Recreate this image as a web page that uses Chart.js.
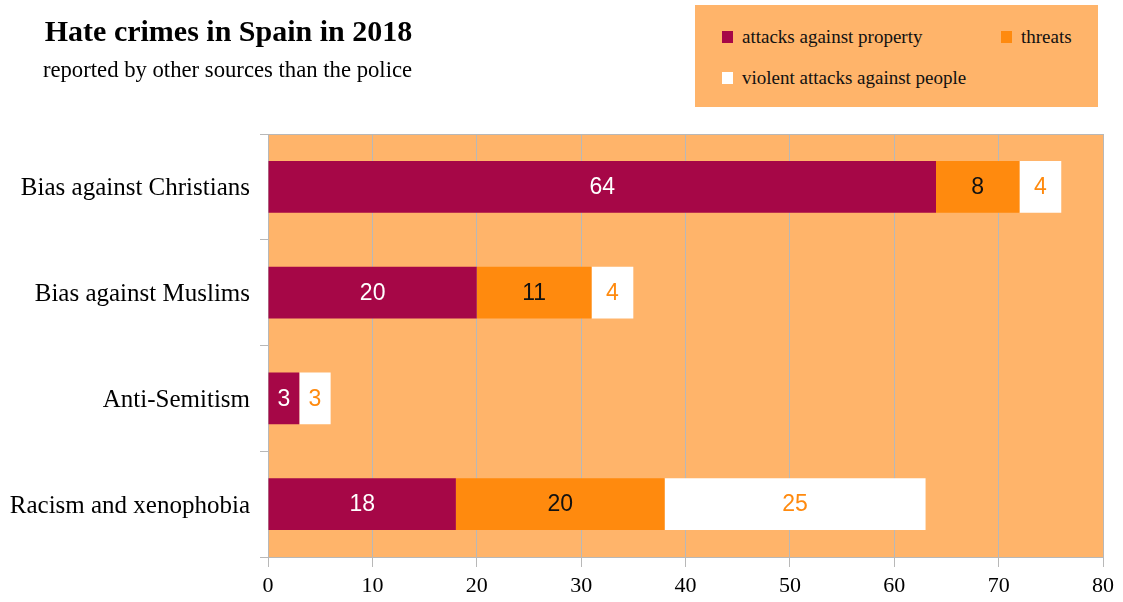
<!DOCTYPE html>
<html><head><meta charset="utf-8">
<script src="https://cdn.jsdelivr.net/npm/chart.js@4"></script>
<style>
html,body{margin:0;padding:0;background:#fff;}
#wrap{position:relative;width:1123px;height:602px;}
#title{position:absolute;left:0;width:457px;top:13px;text-align:center;font:bold 30px "Liberation Serif",serif;line-height:36px;color:#000;}
#sub{position:absolute;left:0;width:455px;top:56px;text-align:center;font:22.7px "Liberation Serif",serif;line-height:28px;color:#000;}
#legend{position:absolute;left:695px;top:5px;width:403px;height:102px;background:#ffb46a;font:19px "Liberation Serif",serif;line-height:22px;color:#111;}
.li{position:absolute;white-space:nowrap;}
.sw{display:inline-block;width:11px;height:12px;margin-right:9px;vertical-align:0px;}
canvas{position:absolute;left:0;top:0;}
</style></head>
<body><div id="wrap">
<canvas id="c" width="1123" height="602"></canvas>
<div id="title">Hate crimes in Spain in 2018</div>
<div id="sub">reported by other sources than the police</div>
<div id="legend"></div>
</div>
<script>
const categories = ["Bias against Christians","Bias against Muslims","Anti-Semitism","Racism and xenophobia"];
const seriesNames = ["attacks against property","threats","violent attacks against people"];
const property = [64,20,3,18];
const threats = [8,11,0,20];
const violent = [4,4,3,25];
const xTicks = [0,10,20,30,40,50,60,70,80];

const colors = ["#a60747","#ff8a0e","#ffffff"];
const labelColors = ["#ffffff","#111111","#ff8a0e"];
const plotBg = "#ffb46a";
const gridCol = "#b8b8b8";

const legendPos = [[27,21],[306,21],[27,62]];
const leg = document.getElementById('legend');
seriesNames.forEach((n,i)=>{
  const d=document.createElement('div');d.className='li';
  d.style.left=legendPos[i][0]+'px';d.style.top=legendPos[i][1]+'px';
  d.innerHTML='<span class="sw" style="background:'+colors[i]+'"></span>'+n;
  leg.appendChild(d);
});

const bgPlugin={id:'bg',beforeDraw(ch){const a=ch.chartArea,c=ch.ctx;c.save();c.fillStyle=plotBg;c.fillRect(a.left,a.top,a.right-a.left,a.bottom-a.top);c.restore();},
 afterDraw(ch){const a=ch.chartArea,c=ch.ctx;c.save();c.strokeStyle=gridCol;c.lineWidth=1;c.beginPath();c.moveTo(a.left,a.top+0.5);c.lineTo(a.right+0.5,a.top+0.5);c.lineTo(a.right+0.5,a.bottom);c.stroke();c.restore();}};
const lblPlugin={id:'lbl',afterDatasetsDraw(ch){const c=ch.ctx;c.save();c.font='23px "Liberation Sans",sans-serif';c.textAlign='center';c.textBaseline='middle';
 ch.data.datasets.forEach((ds,di)=>{const m=ch.getDatasetMeta(di);m.data.forEach((el,i)=>{const v=ds.data[i];if(!v)return;c.fillStyle=labelColors[di];c.fillText(String(v),(el.x+el.base)/2,el.y+1);});});c.restore();}};

new Chart(document.getElementById('c'),{
 type:'bar',
 data:{labels:categories,datasets:[
  {label:seriesNames[0],data:property,backgroundColor:colors[0]},
  {label:seriesNames[1],data:threats,backgroundColor:colors[1]},
  {label:seriesNames[2],data:violent,backgroundColor:colors[2]}]},
 options:{indexAxis:'y',responsive:false,animation:false,
  datasets:{bar:{categoryPercentage:1,barPercentage:0.49,borderWidth:0}},
  layout:{padding:{top:134,right:20,left:0,bottom:0}},
  plugins:{legend:{display:false},tooltip:{enabled:false},title:{display:false}},
  scales:{
   x:{stacked:true,min:0,max:80,afterBuildTicks(s){s.ticks=xTicks.map(v=>({value:v}));},
      grid:{color:gridCol,tickLength:10,drawTicks:true},border:{color:gridCol},
      ticks:{color:'#000',font:{family:'"Liberation Serif",serif',size:22},padding:6},
      afterFit(s){s.height=45;}},
   y:{stacked:true,grid:{offset:true,drawOnChartArea:false,color:gridCol,tickLength:8},border:{color:gridCol},
      ticks:{color:'#000',font:{family:'"Liberation Serif",serif',size:25},padding:10,labelOffset:2},
      afterFit(s){s.width=268;}}
  }},
 plugins:[bgPlugin,lblPlugin]
});
</script></body></html>
